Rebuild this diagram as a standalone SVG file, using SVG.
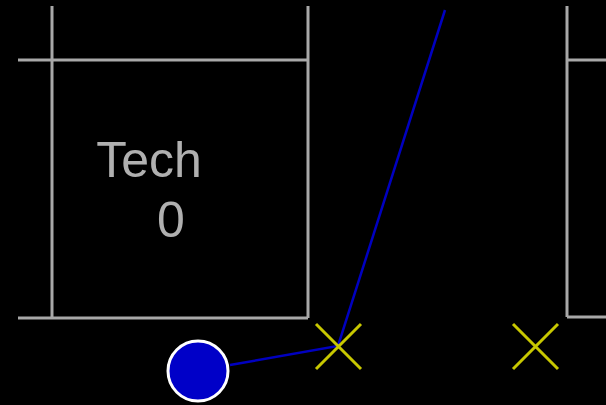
<svg xmlns="http://www.w3.org/2000/svg" width="606" height="405" viewBox="0 0 606 405">
<style>
.wall{stroke:#a8a8a8;stroke-width:3;fill:none}
.lbl{fill:#b0b0b0;font-family:"Liberation Sans",Arial,sans-serif;font-size:50px;text-anchor:middle}
.x{stroke:#c8c800;stroke-width:3;fill:none}
.wire{stroke:#0000c0;stroke-width:2.5;fill:none}
</style>
<rect width="606" height="405" fill="#000"/>
<g id="tech0">
<path class="wall" d="M52 6V318M308 6V318M18 60H308M18 318H308"/>
<text class="lbl" x="149" y="177">Tech</text>
<text class="lbl" x="171" y="237">0</text>
</g>
<g id="tech1">
<path class="wall" d="M567 6V317M567 60H606M567 317H606"/>
</g>
<g id="connectors">
<polyline class="wire" points="445,10 338,346 230,365"/>
</g>
<g id="node-circle">
<circle cx="198" cy="371" r="30" fill="#0000c8" stroke="#ffffff" stroke-width="3"/>
</g>
<g id="x1"><path class="x" d="M316 324L361 369M361 324L316 369"/></g>
<g id="x2"><path class="x" d="M513 324L558 369M558 324L513 369"/></g>
</svg>
